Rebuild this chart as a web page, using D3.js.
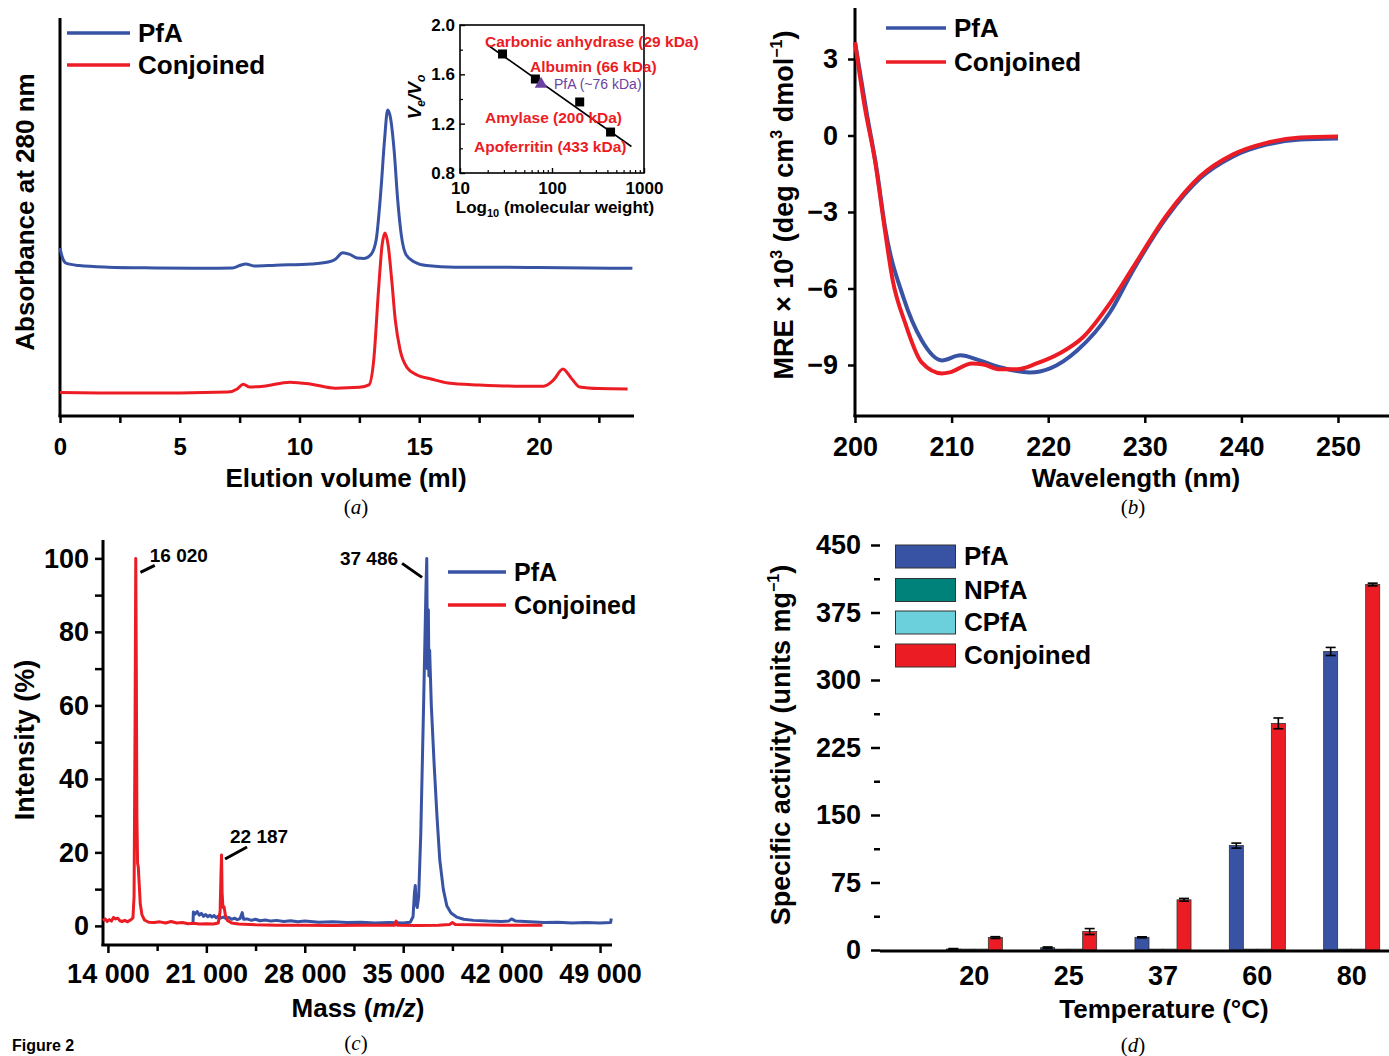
<!DOCTYPE html>
<html>
<head>
<meta charset="utf-8">
<title>Figure 2</title>
<script src="https://d3js.org/d3.v7.min.js"></script>
<style>
body { margin: 0; background: #fff; }
text { font-family: "Liberation Sans", Arial, sans-serif; font-weight: bold; fill: #000; }
.cap { font-family: "Liberation Serif", "DejaVu Serif", serif; font-weight: normal; font-size: 21px; }
</style>
</head>
<body>
<svg width="1389" height="1056"></svg>
<script>
// ---- data ----

// (a) gel filtration profiles: [elution volume (ml), absorbance (a.u.)]
var elutionPfA = [[0,42.2],[0.08,40.2],[0.25,38.4],[0.8,37.8],[2,37.4],[4,37.2],[6,37.1],[7.2,37.2],[7.5,37.8],
  [7.75,38.2],[8.1,37.7],[9,37.9],[10.5,38.2],[11.2,38.7],[11.5,39.4],[11.8,41.0],[12.1,40.6],[12.4,39.7],
  [12.7,39.6],[13.0,40.7],[13.2,44.2],[13.4,56.8],[13.55,69.3],[13.68,76.9],[13.8,74.9],[13.95,66.8],
  [14.1,54.3],[14.25,45.5],[14.45,40.5],[14.8,38.7],[15.3,37.8],[16.5,37.4],[18,37.4],[20,37.3],[22,37.2],[23.9,37.1]];
var elutionConj = [[0,5.9],[2,5.8],[5,5.8],[7,6.0],[7.4,6.8],[7.65,8.0],[7.9,7.3],[8.5,7.5],[9.6,8.5],[10.5,8.0],
  [11.5,7.0],[12.5,7.2],[12.9,7.8],[13.1,14.1],[13.3,31.7],[13.45,43.0],[13.57,46.0],[13.7,43.0],[13.85,34.2],
  [14.0,24.1],[14.2,16.6],[14.5,12.1],[14.9,10.3],[15.5,9.3],[16.2,8.3],[17.5,7.8],[19,7.5],[20.2,7.5],
  [20.6,9.0],[21.0,11.8],[21.35,9.5],[21.7,7.3],[22.5,6.9],[23.7,6.8]];

// (a) inset: calibration standards
var standardNames = ["Carbonic anhydrase (29 kDa)", "Albumin (66 kDa)", "Amylase (200 kDa)", "Apoferritin (433 kDa)"];
var standardMw = [29, 66, 200, 433];
var standardRatio = [1.765, 1.562, 1.376, 1.132];
var pfaMw = 76, pfaRatio = 1.53, pfaName = "PfA (~76 kDa)";
var fitMw = [20, 730], fitRatio = [1.838, 1.015];

// (b) far-UV CD: [wavelength (nm), MRE x 10^3]
var cdPfA = [[200,3.66],[201.2,0.91],[202.3,-1.46],[203.1,-3.58],[205,-6.34],[206.9,-8.03],[209,-8.82],
  [210.9,-8.62],[212.9,-8.82],[215,-9.09],[218.1,-9.29],[220.2,-9.13],[223,-8.43],[226.4,-6.93],
  [228.8,-5.28],[232.3,-3.19],[235.7,-1.69],[239.1,-0.83],[242.7,-0.35],[246.1,-0.16],[250,-0.12]];
var cdConj = [[200,3.66],[201,1.14],[202.1,-1.06],[202.9,-3.19],[203.9,-5.67],[205.2,-7.36],[206.9,-8.9],
  [209,-9.33],[209.8,-9.29],[212.1,-8.94],[213.3,-8.98],[215,-9.17],[216.8,-9.17],[218.8,-8.94],
  [221.2,-8.54],[223.6,-7.91],[226.4,-6.57],[228.8,-5.16],[232.3,-3.11],[235.7,-1.61],[239.1,-0.75],
  [242.7,-0.28],[246.1,-0.08],[250,-0.04]];

// (c) MALDI spectra: [m/z, intensity (%)]
var massPfA = [[20050,0.8],[20080,3.8],[20200,3.2],[20350,3.9],[20500,2.9],[20650,3.4],[20800,2.6],[20950,3.1],
  [21100,2.5],[21250,2.9],[21400,2.4],[21550,2.8],[21700,2.2],[21850,2.6],[22000,2.1],[22200,2.4],[22400,2.0],
  [22600,2.3],[22800,1.8],[23000,2.1],[23200,1.7],[23400,2.0],[23550,3.6],[23650,1.8],[23900,1.9],[24200,1.5],
  [24500,1.8],[24800,1.4],[25200,1.6],[25600,1.3],[26000,1.5],[26500,1.2],[27000,1.4],[27500,1.1],[28000,1.3],
  [29000,1.0],[30000,1.1],[31000,0.9],[32000,1.0],[33000,0.8],[34000,0.9],[35000,0.8],[35500,1.0],[35700,2.5],
  [35800,9],[35860,11],[35920,6],[36000,5],[36100,8],[36250,25],[36450,60],[36620,92],[36676,100],[36700,86],
  [36720,70],[36750,80],[36790,86],[36830,68],[36880,75],[37000,60],[37200,44],[37400,30],[37600,18],[37850,10],
  [38100,5.5],[38400,3.5],[38800,2.4],[39300,1.8],[40000,1.5],[41000,1.3],[42000,1.2],[42500,1.3],[42700,1.9],
  [43000,1.3],[44000,1.1],[45000,0.9],[46000,1.0],[47000,0.8],[48000,0.9],[49000,0.8],[49750,0.9],[49800,2.0]];
var massConj = [[13650,1.4],[13800,1.9],[13950,1.2],[14100,1.7],[14250,1.3],[14400,2.3],[14550,1.9],[14700,2.1],
  [14850,1.4],[15000,1.2],[15200,1.5],[15400,1.1],[15600,1.6],[15780,2.2],[15860,8],[15930,55],[15980,100],
  [16020,70],[16060,30],[16110,17],[16160,16],[16230,11],[16300,6],[16420,3],[16600,1.6],[16900,1.0],[17300,0.9],
  [17700,1.1],[18100,0.8],[18500,1.2],[18900,0.8],[19300,0.9],[19700,0.6],[20100,0.7],[20500,0.5],[21000,0.6],
  [21500,0.5],[21850,0.8],[21980,4],[22040,14],[22081,19.3],[22120,9],[22180,5],[22260,5.2],[22350,3],[22500,1.5],
  [22800,0.8],[23300,0.5],[24500,0.3],[26000,0.2],[28000,0.2],[30000,0.1],[32000,0.15],[34400,0.2],[34500,1.3],
  [34600,0.2],[36000,0.1],[37500,0.2],[38300,0.4],[38500,0.9],[38700,0.4],[40000,0.3],[42000,0.2],[44900,0.2]];
var peakLabels = ["16 020", "22 187", "37 486"];
var peakAt = [[15980, 100], [22081, 19.3], [36676, 100]];

// (d) specific activity (units/mg) at each temperature
var temps = ["20", "25", "37", "60", "80"];
var seriesNames = ["PfA", "NPfA", "CPfA", "Conjoined"];
var actPfA = [1.1, 2.6, 14.1, 116, 331.7];
var actNPfA = [1, 1, 1, 1, 1];
var actCPfA = [1, 1, 1, 1, 1];
var actConj = [13.8, 20.5, 55.8, 251.8, 406.1];
var errPfA = [0.5, 0.8, 0.6, 2.8, 4.5];
var errNPfA = [0, 0, 0, 0, 0];
var errCPfA = [0, 0, 0, 0, 0];
var errConj = [1, 3.3, 1.5, 6, 1.5];

var blue = "#3953a4", red = "#ec1c24", teal = "#00827a", cyan = "#6ccfdc", purple = "#6b42a3";

var svg = d3.select("svg");

function tidy(g, fs) {
  g.select(".domain").remove();
  g.selectAll(".tick line").attr("stroke", "#000").attr("stroke-width", 2.5);
  g.selectAll(".tick text").attr("font-size", fs).attr("fill", "#000");
}
function spine(x1, y1, x2, y2, w) {
  svg.append("line").attr("x1", x1).attr("y1", y1).attr("x2", x2).attr("y2", y2)
    .attr("stroke", "#000").attr("stroke-width", w || 3);
}
function caption(x, y, letter) {
  var t = svg.append("text").attr("class", "cap").attr("x", x).attr("y", y).attr("text-anchor", "middle");
  t.append("tspan").text("(");
  t.append("tspan").attr("font-style", "italic").text(letter);
  t.append("tspan").text(")");
}
function lineLegend(x, y, items, fs, len) {
  items.forEach(function(it, i) {
    var yy = y + i * it.step;
    svg.append("line").attr("x1", x).attr("x2", x + len).attr("y1", yy).attr("y2", yy)
      .attr("stroke", it.color).attr("stroke-width", 3.5);
    svg.append("text").attr("x", x + len + 8).attr("y", yy + fs * 0.36).attr("font-size", fs).text(it.name);
  });
}

// ================= (a) =================
var xA = d3.scaleLinear().domain([0, 24]).range([60, 634.8]);
var yA = d3.scaleLinear().domain([0, 100]).range([416, 18]);
var lineA = d3.line().x(d => xA(d[0])).y(d => yA(d[1])).curve(d3.curveMonotoneX);

svg.append("g").attr("transform", "translate(0,416)")
  .call(d3.axisBottom(xA).tickValues(d3.range(0, 24, 2.5)).tickSize(7).tickPadding(15)
    .tickFormat(d => d % 5 === 0 ? d : ""))
  .call(g => tidy(g, 24));
spine(60, 18, 60, 417);
spine(58.5, 416, 634, 416);

svg.append("path").datum(elutionPfA).attr("d", lineA).attr("fill", "none").attr("stroke", blue).attr("stroke-width", 3);
svg.append("path").datum(elutionConj).attr("d", lineA).attr("fill", "none").attr("stroke", red).attr("stroke-width", 3);

svg.append("text").attr("transform", "translate(34,212) rotate(-90)").attr("text-anchor", "middle")
  .attr("font-size", 26).text("Absorbance at 280 nm");
svg.append("text").attr("x", 346).attr("y", 487).attr("text-anchor", "middle").attr("font-size", 26)
  .text("Elution volume (ml)");
caption(356, 514, "a");
lineLegend(67, 33, [{name: "PfA", color: blue, step: 32}, {name: "Conjoined", color: red, step: 32}], 26, 63);

// inset
var xI = d3.scaleLog().domain([10, 1000]).range([460, 644]);
var yI = d3.scaleLinear().domain([0.8, 2.0]).range([173, 25]);
svg.append("rect").attr("x", 460).attr("y", 25).attr("width", 184).attr("height", 148)
  .attr("fill", "#fff").attr("stroke", "#000").attr("stroke-width", 1.6);
var minorMw = [20,30,40,50,60,70,80,90,200,300,400,500,600,700,800,900];
svg.append("g").attr("transform", "translate(0,173)")
  .call(d3.axisBottom(xI).tickValues(minorMw).tickSize(-3).tickFormat(""))
  .call(g => { tidy(g, 1); g.selectAll(".tick line").attr("stroke-width", 1.2); });
svg.append("g").attr("transform", "translate(0,173)")
  .call(d3.axisBottom(xI).tickValues([10, 100, 1000]).tickSize(-5).tickPadding(9).tickFormat(d3.format("d")))
  .call(g => { tidy(g, 17); g.selectAll(".tick line").attr("stroke-width", 1.4); });
svg.append("g").attr("transform", "translate(460,0)")
  .call(d3.axisLeft(yI).tickValues([1.0, 1.4, 1.8]).tickSize(-3).tickFormat(""))
  .call(g => { tidy(g, 1); g.selectAll(".tick line").attr("stroke-width", 1.2); });
svg.append("g").attr("transform", "translate(460,0)")
  .call(d3.axisLeft(yI).tickValues([0.8, 1.2, 1.6, 2.0]).tickSize(-5).tickPadding(5).tickFormat(d3.format(".1f")))
  .call(g => { tidy(g, 17); g.selectAll(".tick line").attr("stroke-width", 1.4); });

svg.append("line").attr("x1", xI(fitMw[0])).attr("y1", yI(fitRatio[0])).attr("x2", xI(fitMw[1])).attr("y2", yI(fitRatio[1]))
  .attr("stroke", "#000").attr("stroke-width", 1.6);
standardMw.forEach(function(m, i) {
  svg.append("rect").attr("x", xI(m) - 4.5).attr("y", yI(standardRatio[i]) - 4.5).attr("width", 9).attr("height", 9).attr("fill", "#000");
});
svg.append("path").attr("d", d3.symbol().type(d3.symbolTriangle).size(70))
  .attr("transform", "translate(" + xI(pfaMw) + "," + (yI(pfaRatio) + 1) + ")").attr("fill", purple);

var stdLabelPos = [[485, 47], [530, 72], [485, 123], [474, 152]];
standardNames.forEach(function(n, i) {
  svg.append("text").attr("x", stdLabelPos[i][0]).attr("y", stdLabelPos[i][1]).attr("font-size", 15.5)
    .style("fill", red).text(n);
});
svg.append("text").attr("x", 554).attr("y", 89).attr("font-size", 14).style("font-weight", "normal")
  .style("fill", purple).text(pfaName);

var vv = svg.append("text").attr("transform", "translate(421,97) rotate(-90)").attr("text-anchor", "middle")
  .attr("font-size", 19).attr("font-style", "italic");
vv.append("tspan").text("V");
vv.append("tspan").attr("font-size", 12).attr("dy", 4).text("e");
vv.append("tspan").attr("dy", -4).text("/V");
vv.append("tspan").attr("font-size", 12).attr("dy", 4).text("o");
var lg = svg.append("text").attr("x", 555).attr("y", 213).attr("text-anchor", "middle").attr("font-size", 17);
lg.append("tspan").text("Log");
lg.append("tspan").attr("font-size", 11).attr("dy", 4).text("10");
lg.append("tspan").attr("dy", -4).text(" (molecular weight)");

// ================= (b) =================
var xB = d3.scaleLinear().domain([200, 255]).range([855, 1386.3]);
var yB = d3.scaleLinear().domain([-11, 5]).range([416, 8]);
var lineB = d3.line().x(d => xB(d[0])).y(d => yB(d[1])).curve(d3.curveMonotoneX);

svg.append("g").attr("transform", "translate(0,416)")
  .call(d3.axisBottom(xB).tickValues(d3.range(200, 251, 10)).tickSize(7).tickPadding(14))
  .call(g => tidy(g, 27));
svg.append("g").attr("transform", "translate(855,0)")
  .call(d3.axisLeft(yB).tickValues([3, 0, -3, -6, -9]).tickSize(7).tickPadding(10).tickFormat(d => d < 0 ? "\u2212" + (-d) : d))
  .call(g => tidy(g, 27));
spine(855, 8, 855, 417);
spine(853.5, 416, 1389, 416);

svg.append("path").datum(cdPfA).attr("d", lineB).attr("fill", "none").attr("stroke", blue).attr("stroke-width", 4);
svg.append("path").datum(cdConj).attr("d", lineB).attr("fill", "none").attr("stroke", red).attr("stroke-width", 4);

var yl = svg.append("text").attr("transform", "translate(793,205) rotate(-90)").attr("text-anchor", "middle").attr("font-size", 27);
yl.append("tspan").text("MRE \u00d7 10");
yl.append("tspan").attr("font-size", 16).attr("dy", -11).text("3");
yl.append("tspan").attr("dy", 11).text(" (deg cm");
yl.append("tspan").attr("font-size", 16).attr("dy", -11).text("3");
yl.append("tspan").attr("dy", 11).text(" dmol");
yl.append("tspan").attr("font-size", 16).attr("dy", -11).text("\u22121");
yl.append("tspan").attr("dy", 11).text(")");
svg.append("text").attr("x", 1136).attr("y", 487).attr("text-anchor", "middle").attr("font-size", 26).text("Wavelength (nm)");
caption(1133, 514, "b");
lineLegend(886, 28, [{name: "PfA", color: blue, step: 34}, {name: "Conjoined", color: red, step: 34}], 26, 60);

// ================= (c) =================
var xC = d3.scaleLinear().domain([13650, 49850]).range([103, 612]);
var yC = d3.scaleLinear().domain([-5.2, 105]).range([945, 540]);
var lineC = d3.line().x(d => xC(d[0])).y(d => yC(d[1]));

svg.append("g").attr("transform", "translate(0,945)")
  .call(d3.axisBottom(xC).tickValues(d3.range(17500, 49000, 7000)).tickSize(6).tickFormat(""))
  .call(g => tidy(g, 1));
svg.append("g").attr("transform", "translate(0,945)")
  .call(d3.axisBottom(xC).tickValues(d3.range(14000, 49001, 7000)).tickSize(8).tickPadding(11)
    .tickFormat(d => d3.format(",")(d).replace(",", " ")))
  .call(g => tidy(g, 27));
svg.append("g").attr("transform", "translate(103,0)")
  .call(d3.axisLeft(yC).tickValues(d3.range(10, 100, 20)).tickSize(8).tickFormat(""))
  .call(g => tidy(g, 1));
svg.append("g").attr("transform", "translate(103,0)")
  .call(d3.axisLeft(yC).tickValues(d3.range(0, 101, 20)).tickSize(8).tickPadding(6))
  .call(g => tidy(g, 27));
spine(103, 540, 103, 946);
spine(101.5, 945, 612, 945);

svg.append("path").datum(massPfA).attr("d", lineC).attr("fill", "none").attr("stroke", blue).attr("stroke-width", 3).attr("stroke-linejoin", "round");
svg.append("path").datum(massConj).attr("d", lineC).attr("fill", "none").attr("stroke", red).attr("stroke-width", 3).attr("stroke-linejoin", "round");

// peak call-outs: leader offsets and text offsets in px from the peak top
var calloutLeader = [[[4.7, 14], [19, 7]], [[3.5, 4], [25.5, -8]], [[-4.7, 19], [-24.7, 5]]];
var calloutText = [[14, 4, "start"], [8.5, -12, "start"], [-28.7, 7, "end"]];
peakAt.forEach(function(p, i) {
  var px = xC(p[0]), py = yC(p[1]);
  var L = calloutLeader[i], T = calloutText[i];
  svg.append("line").attr("x1", px + L[0][0]).attr("y1", py + L[0][1]).attr("x2", px + L[1][0]).attr("y2", py + L[1][1])
    .attr("stroke", "#000").attr("stroke-width", 3);
  svg.append("text").attr("x", px + T[0]).attr("y", py + T[1]).attr("text-anchor", T[2]).attr("font-size", 19).text(peakLabels[i]);
});

svg.append("text").attr("transform", "translate(34,740) rotate(-90)").attr("text-anchor", "middle").attr("font-size", 27).text("Intensity (%)");
var mt = svg.append("text").attr("x", 358).attr("y", 1017).attr("text-anchor", "middle").attr("font-size", 26);
mt.append("tspan").text("Mass (");
mt.append("tspan").attr("font-style", "italic").text("m/z");
mt.append("tspan").text(")");
caption(356, 1050, "c");
lineLegend(448, 572, [{name: "PfA", color: blue, step: 33}, {name: "Conjoined", color: red, step: 33}], 25, 58);

// ================= (d) =================
var yD = d3.scaleLinear().domain([0, 450]).range([950, 545]);
var x0 = d3.scaleBand().domain(temps).range([908, 1418]).padding(0.406);
var x1 = d3.scaleBand().domain(seriesNames).range([0, x0.bandwidth()]);
var colD = d3.scaleOrdinal().domain(seriesNames).range([blue, teal, cyan, red]);
var actBy = {PfA: actPfA, NPfA: actNPfA, CPfA: actCPfA, Conjoined: actConj};
var errBy = {PfA: errPfA, NPfA: errNPfA, CPfA: errCPfA, Conjoined: errConj};

svg.append("g").attr("transform", "translate(880,0)")
  .call(d3.axisLeft(yD).tickValues(d3.range(37.5, 450, 75)).tickSize(6).tickFormat(""))
  .call(g => tidy(g, 1));
svg.append("g").attr("transform", "translate(880,0)")
  .call(d3.axisLeft(yD).tickValues(d3.range(0, 451, 75)).tickSize(9).tickPadding(10))
  .call(g => tidy(g, 27));

var bars = [];
temps.forEach(function(t, i) {
  seriesNames.forEach(function(s) { bars.push({t: t, s: s, v: actBy[s][i], e: errBy[s][i]}); });
});
svg.append("g").selectAll("rect").data(bars).join("rect")
  .attr("x", d => x0(d.t) + x1(d.s)).attr("width", x1.bandwidth())
  .attr("y", d => yD(d.v)).attr("height", d => yD(0) - yD(d.v))
  .attr("fill", d => colD(d.s)).attr("stroke", "#333").attr("stroke-width", 0.8);
var eb = svg.append("g").selectAll("g").data(bars.filter(d => d.e > 0)).join("g")
  .attr("stroke", "#000").attr("stroke-width", 1.6);
eb.append("line").attr("x1", d => x0(d.t) + x1(d.s) + x1.bandwidth() / 2).attr("x2", d => x0(d.t) + x1(d.s) + x1.bandwidth() / 2)
  .attr("y1", d => yD(d.v + d.e)).attr("y2", d => yD(d.v - d.e));
eb.append("line").attr("x1", d => x0(d.t) + x1(d.s) + 2).attr("x2", d => x0(d.t) + x1(d.s) + x1.bandwidth() - 2)
  .attr("y1", d => yD(d.v + d.e)).attr("y2", d => yD(d.v + d.e));
eb.append("line").attr("x1", d => x0(d.t) + x1(d.s) + 2).attr("x2", d => x0(d.t) + x1(d.s) + x1.bandwidth() - 2)
  .attr("y1", d => yD(d.v - d.e)).attr("y2", d => yD(d.v - d.e));

svg.append("g").attr("transform", "translate(0,951)")
  .call(d3.axisBottom(x0).tickSize(0).tickPadding(15))
  .call(g => tidy(g, 27));
spine(880, 951, 1389, 951);

var ylD = svg.append("text").attr("transform", "translate(790,745) rotate(-90)").attr("text-anchor", "middle").attr("font-size", 27);
ylD.append("tspan").text("Specific activity (units mg");
ylD.append("tspan").attr("font-size", 16).attr("dy", -11).text("\u22121");
ylD.append("tspan").attr("dy", 11).text(")");
svg.append("text").attr("x", 1164).attr("y", 1018).attr("text-anchor", "middle").attr("font-size", 26).text("Temperature (\u00b0C)");
caption(1133, 1052, "d");

var legTop = [545, 578.5, 611, 644];
seriesNames.forEach(function(s, i) {
  svg.append("rect").attr("x", 895.5).attr("y", legTop[i]).attr("width", 60).attr("height", 23)
    .attr("fill", colD(s)).attr("stroke", "#333").attr("stroke-width", 1);
  svg.append("text").attr("x", 964).attr("y", legTop[i] + 20).attr("font-size", 26).text(s);
});

// figure label at the bottom-left corner
svg.append("text").attr("x", 12).attr("y", 1051).attr("font-size", 16).text("Figure 2");
</script>
</body>
</html>
